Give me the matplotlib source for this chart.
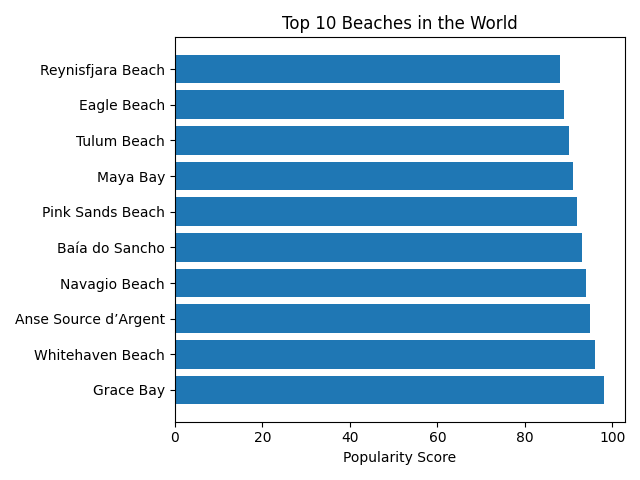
import matplotlib
matplotlib.use("Agg")
import matplotlib.pyplot as plt

beaches = ["Grace Bay", "Whitehaven Beach", "Anse Source d\u2019Argent", "Navagio Beach",
           "Baía do Sancho", "Pink Sands Beach", "Maya Bay", "Tulum Beach",
           "Eagle Beach", "Reynisfjara Beach"]
scores = [98, 96, 95, 94, 93, 92, 91, 90, 89, 88]

fig, ax = plt.subplots(figsize=(6.4, 4.8), dpi=100)
ax.barh(beaches, scores)
ax.set_xlabel("Popularity Score")
ax.set_title("Top 10 Beaches in the World")
plt.tight_layout()
plt.savefig("out.png")
